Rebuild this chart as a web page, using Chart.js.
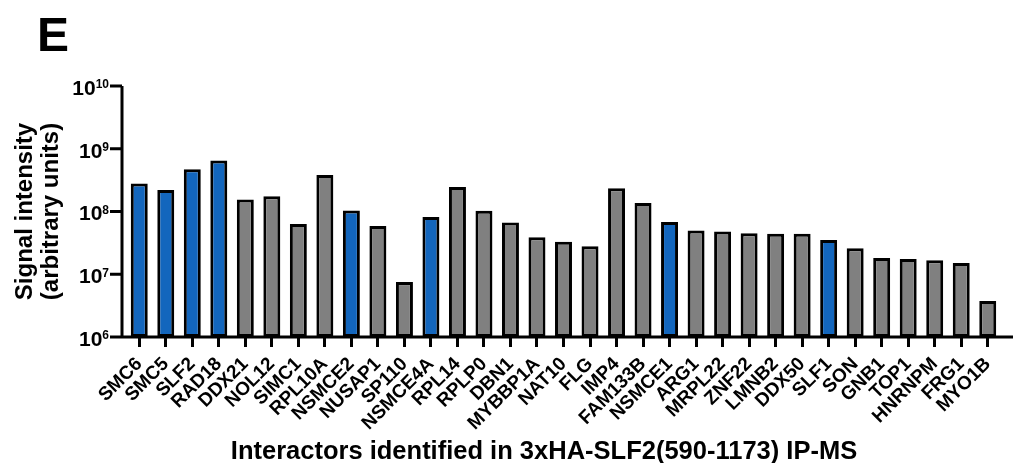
<!DOCTYPE html>
<html>
<head>
<meta charset="utf-8">
<script src="https://cdn.jsdelivr.net/npm/chart.js@4.4.1/dist/chart.umd.min.js"></script>
<style>
  body { margin: 0; background: #fff; }
  #wrap { position: relative; width: 1024px; height: 463px; font-family: "Liberation Sans", Arial, sans-serif; }
  #panel { position: absolute; left: 37px; top: 11px; font-size: 48px; line-height: 48px; font-weight: bold; }
  #xtitle { position: absolute; left: 544px; top: 438px; transform: translateX(-50%); white-space: nowrap;
            font-size: 25.5px; line-height: 25px; font-weight: bold; }
</style>
</head>
<body>
<div id="wrap">
  <canvas id="ipmsChart"></canvas>
  <div id="panel">E</div>
  <div id="xtitle">Interactors identified in 3xHA-SLF2(590-1173) IP-MS</div>
</div>
<script>
// interactors and signal intensities (arbitrary units)
const proteins = ["SMC6", "SMC5", "SLF2", "RAD18", "DDX21", "NOL12", "SIMC1", "RPL10A", "NSMCE2", "NUSAP1",
  "SP110", "NSMCE4A", "RPL14", "RPLP0", "DBN1", "MYBBP1A", "NAT10", "FLG", "IMP4", "FAM133B",
  "NSMCE1", "ARG1", "MRPL22", "ZNF22", "LMNB2", "DDX50", "SLF1", "SON", "GNB1", "TOP1",
  "HNRNPM", "FRG1", "MYO1B"];
const intensity = [2.8e8, 2.2e8, 4.7e8, 6.5e8, 1.56e8, 1.75e8, 6.3e7, 3.8e8, 1.04e8, 5.9e7,
  7.5e6, 8.2e7, 2.45e8, 1.03e8, 6.7e7, 3.9e7, 3.3e7, 2.8e7, 2.35e8, 1.36e8,
  6.8e7, 5.0e7, 4.8e7, 4.5e7, 4.4e7, 4.4e7, 3.5e7, 2.6e7, 1.82e7, 1.75e7,
  1.67e7, 1.51e7, 3.75e6];
const smc56Complex = ["SMC6", "SMC5", "SLF2", "RAD18", "NSMCE2", "NSMCE4A", "NSMCE1", "SLF1"];
const yTicks = [1e6, 1e7, 1e8, 1e9, 1e10];

const BLUE = "#1366bd";
const GREY = "#808080";
const FONT = "'Liberation Sans', Arial, sans-serif";

// axis lines sit a little left of the first bar and run past the last one;
// y labels drawn as 10 with a superscript exponent
const axisDecor = {
  id: "axisDecor",
  afterDraw(chart) {
    const { ctx, chartArea } = chart;
    const y = chart.scales.y;
    const ax = chartArea.left - 4;
    ctx.save();
    ctx.strokeStyle = "#000";
    ctx.lineWidth = 3;
    ctx.beginPath();
    ctx.moveTo(ax, chartArea.top);
    ctx.lineTo(ax, chartArea.bottom + 1.5);
    ctx.moveTo(ax - 1.5, chartArea.bottom);
    ctx.lineTo(chartArea.right + 12, chartArea.bottom);
    yTicks.forEach((v) => {
      const py = y.getPixelForValue(v);
      ctx.moveTo(ax, py);
      ctx.lineTo(ax - 12, py);
    });
    ctx.stroke();

    ctx.fillStyle = "#000";
    ctx.textBaseline = "middle";
    ctx.textAlign = "right";
    yTicks.forEach((v) => {
      const py = y.getPixelForValue(v);
      const exp = String(Math.round(Math.log10(v)));
      const xr = ax - 13;
      ctx.font = "bold 12px " + FONT;
      const ew = ctx.measureText(exp).width;
      ctx.fillText(exp, xr, py - 1);
      ctx.font = "bold 21px " + FONT;
      ctx.fillText("10", xr - ew, py + 3);
    });
    ctx.restore();
  },
};

new Chart(document.getElementById("ipmsChart"), {
  type: "bar",
  data: {
    labels: proteins,
    datasets: [
      {
        data: intensity,
        backgroundColor: proteins.map((p) => (smc56Complex.includes(p) ? BLUE : GREY)),
        borderColor: "#000",
        borderWidth: 3,
        borderSkipped: false,
        categoryPercentage: 1,
        barPercentage: 0.64,
      },
    ],
  },
  options: {
    responsive: true,
    maintainAspectRatio: false,
    animation: false,
    layout: { padding: { left: 12, right: 23, top: 86, bottom: 0 } },
    plugins: { legend: { display: false }, tooltip: { enabled: false } },
    scales: {
      x: {
        grid: { display: true, offset: false, drawOnChartArea: false, tickLength: 10, tickWidth: 3, color: "#000" },
        border: { display: false },
        ticks: {
          autoSkip: false,
          minRotation: 45,
          maxRotation: 45,
          padding: 6,
          color: "#000",
          font: { family: FONT, size: 19, weight: "bold" },
        },
        afterFit(scale) {
          scale.height = 126;
        },
      },
      y: {
        type: "logarithmic",
        min: 1e6,
        max: 1e10,
        afterBuildTicks(scale) {
          scale.ticks = yTicks.map((v) => ({ value: v, major: true }));
        },
        grid: { display: false },
        border: { display: false },
        ticks: { display: false },
        title: {
          display: true,
          text: ["Signal intensity", "(arbitrary units)"],
          color: "#000",
          padding: 0,
          font: { family: FONT, size: 24, weight: "bold", lineHeight: 1.1 },
        },
        afterFit(scale) {
          scale.width = 114;
        },
      },
    },
  },
  plugins: [axisDecor],
});
</script>
</body>
</html>
